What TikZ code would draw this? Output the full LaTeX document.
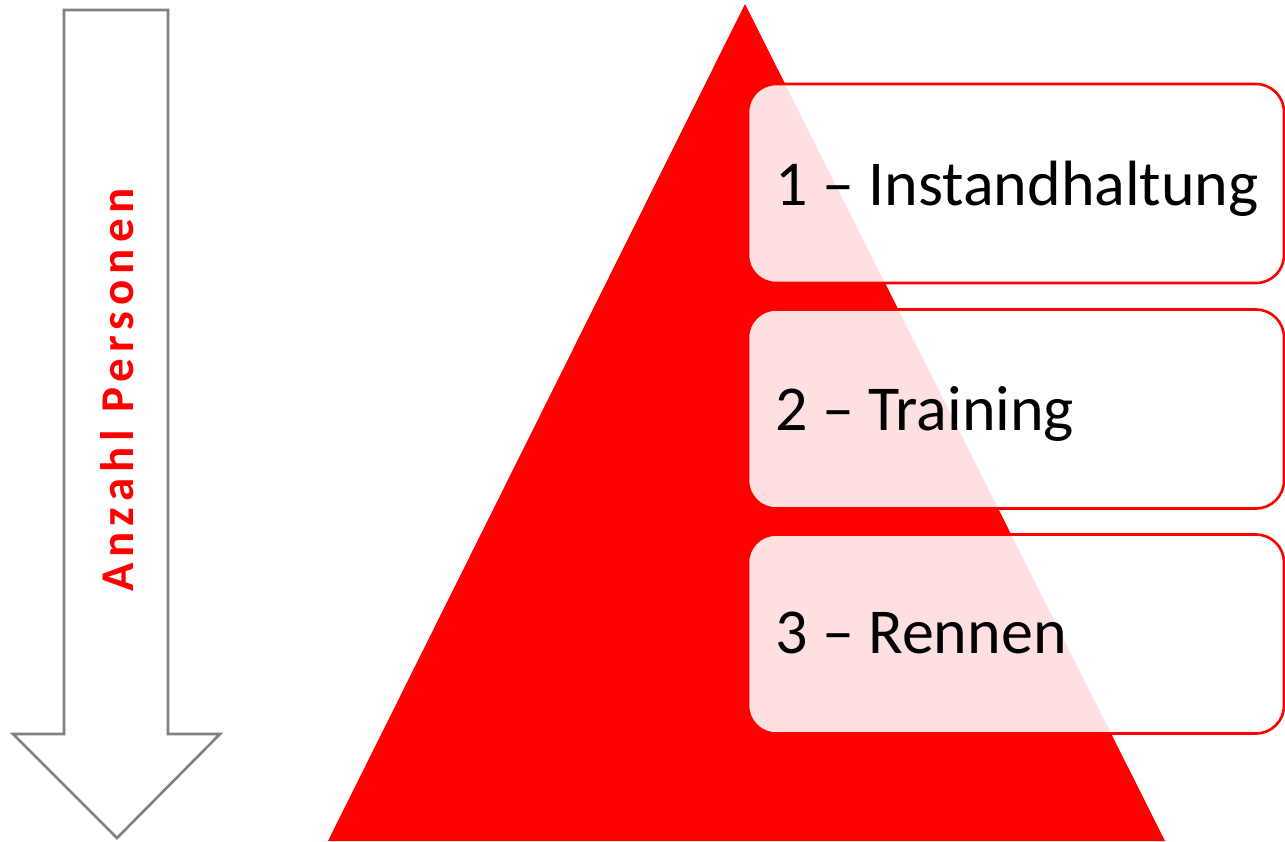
\documentclass[tikz,border=0pt]{standalone}
\usepackage{fontspec}
\setmainfont{Carlito}
\begin{document}
\begin{tikzpicture}[x=1pt,y=-1pt,
  box/.style={draw=red, line width=2.6pt, fill=white, fill opacity=0.88, rounded corners=28pt,
    minimum width=536pt, minimum height=199pt, inner sep=0pt},
  lbl/.style={anchor=base west, inner sep=0pt, text=black, font=\fontsize{64}{70}\selectfont},
  arrowtxt/.style={rotate=90, anchor=base, inner sep=0pt, text=red,
    font=\fontsize{47}{50}\selectfont\bfseries\addfontfeature{LetterSpace=13}}]
\useasboundingbox (0,0) rectangle (1285,841);
% downward arrow
\draw[draw=black!50, line width=2.6pt, fill=white, line join=miter]
  (64,10) -- (168,10) -- (168,734) -- (220,734) -- (117,838) -- (13,734) -- (64,734) -- cycle;
\node[arrowtxt] (ap) at (133,390) {Anzahl Personen};
% pyramid
\fill[red] (745,4) -- (1165,841) -- (328,841) -- cycle;
% boxes
\node[box] (b1) at (1016,183.5) {};
\node[box] (b2) at (1016,409) {};
\node[box] (b3) at (1016,634) {};
\node[lbl] (t1) at (775,205) {1 – Instandhaltung};
\node[lbl] (t2) at (775,430) {2 – Training};
\node[lbl] (t3) at (775,653) {3 – Rennen};
\end{tikzpicture}
\end{document}
